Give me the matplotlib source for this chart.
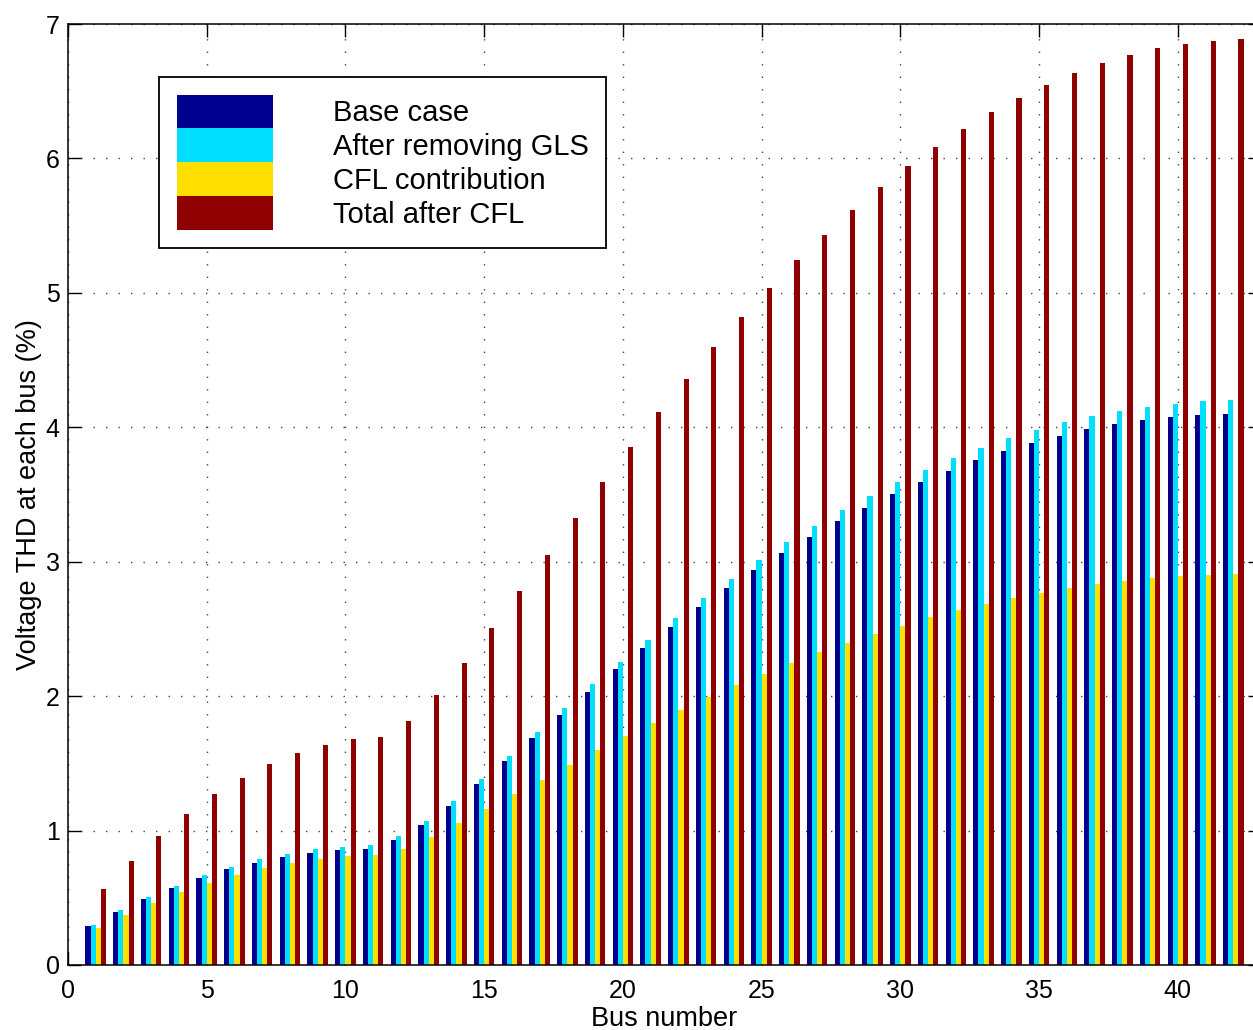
import numpy as np
import matplotlib
matplotlib.use("Agg")
import matplotlib.pyplot as plt

# voltage THD (%) per bus
bus = np.arange(1, 43)

base_case = [0.290, 0.394, 0.489, 0.575, 0.647, 0.712, 0.761, 0.804, 0.836, 0.856,
             0.866, 0.932, 1.044, 1.185, 1.347, 1.518, 1.689, 1.862, 2.034, 2.200,
             2.359, 2.512, 2.661, 2.804, 2.938, 3.068, 3.187, 3.300, 3.403, 3.503,
             3.594, 3.677, 3.754, 3.822, 3.885, 3.936, 3.984, 4.021, 4.053, 4.076,
             4.090, 4.098]

no_gls = [0.300, 0.407, 0.506, 0.590, 0.667, 0.731, 0.786, 0.826, 0.861, 0.878,
          0.890, 0.960, 1.074, 1.220, 1.384, 1.557, 1.736, 1.912, 2.088, 2.254,
          2.418, 2.579, 2.728, 2.875, 3.013, 3.145, 3.269, 3.383, 3.492, 3.592,
          3.685, 3.771, 3.847, 3.919, 3.981, 4.036, 4.081, 4.121, 4.152, 4.175,
          4.192, 4.201]

cfl_contrib = [0.278, 0.374, 0.461, 0.543, 0.610, 0.670, 0.722, 0.759, 0.789, 0.809,
               0.818, 0.863, 0.952, 1.054, 1.161, 1.272, 1.379, 1.488, 1.597, 1.704,
               1.803, 1.900, 1.994, 2.083, 2.167, 2.249, 2.327, 2.398, 2.460, 2.525,
               2.589, 2.641, 2.689, 2.731, 2.769, 2.803, 2.834, 2.857, 2.877, 2.891,
               2.902, 2.907]

total_cfl = [0.563, 0.771, 0.957, 1.123, 1.270, 1.391, 1.493, 1.575, 1.637, 1.679,
             1.696, 1.813, 2.011, 2.245, 2.507, 2.779, 3.053, 3.328, 3.594, 3.857,
             4.112, 4.360, 4.596, 4.821, 5.035, 5.241, 5.430, 5.616, 5.787, 5.940,
             6.085, 6.219, 6.342, 6.450, 6.547, 6.632, 6.707, 6.766, 6.818, 6.852,
             6.875, 6.889]

labels = ['Base case', 'After removing GLS', 'CFL contribution', 'Total after CFL']
colors = ['#00008F', '#00DFFF', '#FFDF00', '#8F0000']

plt.rcParams['font.family'] = ['Liberation Sans', 'DejaVu Sans']

W, H = 1253, 1030
fig = plt.figure(figsize=(W / 100, H / 100), dpi=100)
# axes run a little past the right edge, as in the cropped original
ax = fig.add_axes([68 / W, (H - 965) / H, (1261 - 68) / W, (965 - 24) / H])

w = 0.185
series = [base_case, no_gls, cfl_contrib, total_cfl]
for i, (vals, lab, c) in enumerate(zip(series, labels, colors)):
    off = (i - 1.5) * w
    ax.bar(bus + off, vals, width=w, color=c, label=lab, linewidth=0)

ax.set_xlim(0, 43)
ax.set_ylim(0, 7)
ax.set_xticks(np.arange(0, 45, 5))
ax.set_yticks(np.arange(0, 8, 1))

ax.set_axisbelow(True)
ax.grid(True, color='#444444', linewidth=1.0, linestyle=(0, (1, 8)))

for s in ax.spines.values():
    s.set_linewidth(1.1)
ax.tick_params(direction='in', length=9.5, width=1, top=True, right=True,
               labelsize=18)
ax.tick_params(axis='x', pad=10)
ax.tick_params(axis='y', pad=6)

ax.set_xlabel('Bus number', fontsize=19.5, labelpad=2)
ax.set_ylabel('Voltage THD at each bus (%)', fontsize=19.5, labelpad=3)

# patches stacked with no gap, like the matlab legend
leg = ax.legend(loc='upper left', bbox_to_anchor=(159 / W, 1 - 77 / H),
                bbox_transform=fig.transFigure, borderaxespad=0,
                fontsize=21, fancybox=False, framealpha=1, edgecolor='black',
                handlelength=3.3, handleheight=1.41, labelspacing=0.0,
                handletextpad=2.05, borderpad=0.6)
leg.get_frame().set_linewidth(1.3)

fig.savefig('out.png', dpi=100)
